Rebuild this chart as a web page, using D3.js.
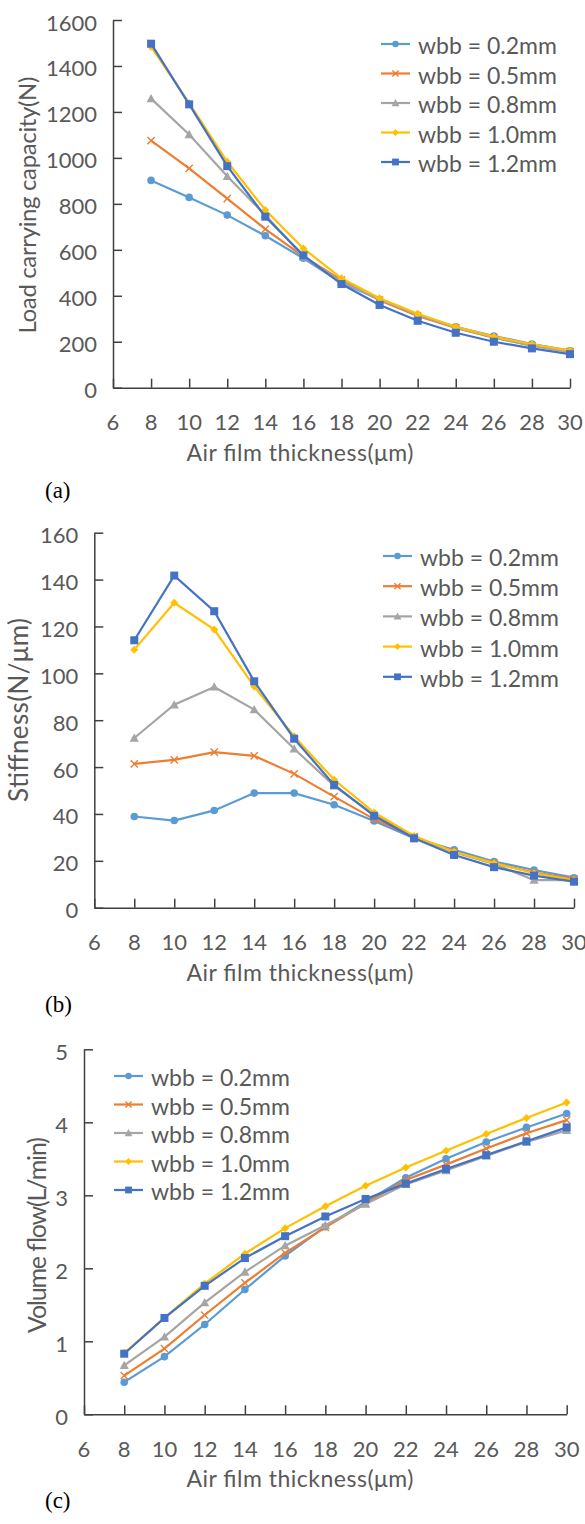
<!DOCTYPE html>
<html>
<head>
<meta charset="utf-8">
<script src="https://cdn.jsdelivr.net/npm/d3@7"></script>
<style>
  body { margin: 0; background: #fff; }
  svg text { font-family: Lato, "Open Sans", sans-serif; fill: #595959; }
  .caption { font-family: "Liberation Serif", "DejaVu Serif", serif; fill: #000; }
</style>
</head>
<body>
<svg id="chart" width="585" height="1524"></svg>
<script>
// x values shared by all three panels (air film thickness, um)
const thickness = [8, 10, 12, 14, 16, 18, 20, 22, 24, 26, 28, 30];
const seriesNames = ["wbb = 0.2mm", "wbb = 0.5mm", "wbb = 0.8mm", "wbb = 1.0mm", "wbb = 1.2mm"];
const xTicks = [6, 8, 10, 12, 14, 16, 18, 20, 22, 24, 26, 28, 30];

// (a) load carrying capacity (N)
const loadW02 = [902, 828, 751, 661, 563, 457, 384, 316, 265, 225, 190, 161];
const loadW05 = [1075, 954, 823, 690, 571, 468, 381, 312, 260, 218, 183, 157];
const loadW08 = [1258, 1102, 920, 751, 570, 461, 384, 316, 261, 219, 183, 157];
const loadW10 = [1484, 1238, 983, 773, 606, 476, 389, 322, 265, 222, 189, 161];
const loadW12 = [1497, 1233, 964, 744, 576, 451, 360, 291, 239, 200, 171, 146];
const loadTicks = [0, 200, 400, 600, 800, 1000, 1200, 1400, 1600];

// (b) stiffness (N/um)
const stiffW02 = [38.9, 37.2, 41.5, 48.9, 48.9, 43.9, 37.0, 29.6, 24.7, 19.7, 16.1, 12.8];
const stiffW05 = [61.4, 63.1, 66.4, 64.8, 57.1, 47.4, 37.8, 30.3, 23.9, 19.0, 15.0, 12.3];
const stiffW08 = [72.4, 86.6, 94.2, 84.5, 67.8, 52.0, 39.6, 29.9, 23.7, 18.7, 11.8, 11.8];
const stiffW10 = [110.1, 130.1, 118.7, 94.4, 73.1, 54.6, 40.6, 30.6, 23.9, 19.0, 14.7, 11.8];
const stiffW12 = [114.1, 141.7, 126.5, 96.6, 72.1, 52.4, 39.2, 29.6, 22.5, 17.3, 13.7, 11.1];
const stiffTicks = [0, 20, 40, 60, 80, 100, 120, 140, 160];

// (c) volume flow (L/min)
const flowW02 = [0.44, 0.79, 1.23, 1.71, 2.17, 2.57, 2.91, 3.24, 3.50, 3.73, 3.93, 4.12];
const flowW05 = [0.53, 0.90, 1.36, 1.80, 2.21, 2.56, 2.89, 3.21, 3.42, 3.64, 3.85, 4.03];
const flowW08 = [0.67, 1.06, 1.53, 1.95, 2.31, 2.59, 2.88, 3.15, 3.34, 3.54, 3.73, 3.89];
const flowW10 = [0.84, 1.32, 1.79, 2.20, 2.55, 2.85, 3.13, 3.38, 3.61, 3.84, 4.06, 4.27];
const flowW12 = [0.83, 1.32, 1.76, 2.14, 2.44, 2.71, 2.95, 3.16, 3.36, 3.55, 3.74, 3.93];
const flowTicks = [0, 1, 2, 3, 4, 5];

const colors = ["#5B9BD5", "#ED7D31", "#A5A5A5", "#FFC000", "#4472C4"];
const markers = ["circle", "cross", "triangle", "diamond", "square"];

const svg = d3.select("#chart");

// draws one excel-like marker at 0,0 inside g
function drawMarker(g, type, color, s) {
    if (type === "circle") {
        g.append("circle").attr("r", 3.8 * s).attr("fill", color);
    } else if (type === "square") {
        g.append("rect").attr("x", -4 * s).attr("y", -4 * s)
            .attr("width", 8 * s).attr("height", 8 * s).attr("fill", color);
    } else if (type === "triangle") {
        let r = 4.6 * s;
        g.append("path").attr("d", `M0,${-r}L${r},${r * 0.8}L${-r},${r * 0.8}Z`).attr("fill", color);
    } else if (type === "diamond") {
        let r = 4 * s;
        g.append("path").attr("d", `M0,${-r}L${r},0L0,${r}L${-r},0Z`).attr("fill", color);
    } else if (type === "cross") {
        let r = 3.6 * s;
        g.append("path").attr("d", `M${-r},${-r}L${r},${r}M${-r},${r}L${r},${-r}`)
            .attr("stroke", color).attr("stroke-width", 1.4);
    }
}

function drawPanel(p) {
    let x = d3.scaleLinear().domain([6, 30]).range([p.left, p.right]);
    let y = d3.scaleLinear().domain([0, p.yMax]).range([p.bottom, p.top]);
    let g = svg.append("g");

    // axes, ticks point inward like the excel original
    let xAxis = d3.axisBottom(x).tickValues(xTicks).tickSizeInner(-9).tickSizeOuter(0).tickPadding(0).tickFormat("");
    let yAxis = d3.axisLeft(y).tickValues(p.yTicks).tickSizeInner(-9).tickSizeOuter(0).tickFormat("");
    g.append("g").attr("transform", `translate(0,${p.bottom})`).call(xAxis);
    g.append("g").attr("transform", `translate(${p.left},0)`).call(yAxis);
    g.selectAll(".domain, .tick line").attr("stroke", "#404040").attr("stroke-width", 1.5);

    // tick labels
    g.selectAll(".xlab").data(xTicks).enter().append("text")
        .attr("x", d => x(d)).attr("y", p.bottom + p.xLabDy)
        .attr("text-anchor", "middle").attr("dominant-baseline", "central")
        .attr("font-size", 22).text(d => d);
    g.selectAll(".ylab").data(p.yTicks).enter().append("text")
        .attr("x", p.left - 16).attr("y", d => y(d) + 2)
        .attr("text-anchor", "end").attr("dominant-baseline", "central")
        .attr("font-size", 22).text(d => d);

    g.append("text").attr("x", 300).attr("y", p.bottom + p.xTitleDy)
        .attr("text-anchor", "middle").attr("dominant-baseline", "central")
        .attr("font-size", 23).attr("textLength", 227)
        .text("Air film thickness(\u03bcm)");
    g.append("text")
        .attr("transform", `translate(${p.yTitleX},${p.yTitleY}) rotate(-90)`)
        .attr("text-anchor", "middle").attr("dominant-baseline", "central")
        .attr("font-size", p.yTitleSize).attr("textLength", p.yTitleLen)
        .text(p.yTitle);

    // series lines + markers
    let line = d3.line().x((d, i) => x(thickness[i])).y(d => y(d));
    p.series.forEach((vals, k) => {
        g.append("path").datum(vals).attr("d", line)
            .attr("fill", "none").attr("stroke", colors[k]).attr("stroke-width", 2.2);
        vals.forEach((v, i) => {
            let m = g.append("g").attr("transform", `translate(${x(thickness[i])},${y(v)})`);
            drawMarker(m, markers[k], colors[k], 1);
        });
    });

    // legend
    let lg = g.append("g").attr("transform", `translate(${p.legX},${p.legY})`);
    seriesNames.forEach((name, k) => {
        let row = lg.append("g").attr("transform", `translate(0,${k * p.legStep})`);
        row.append("line").attr("x1", 0).attr("x2", 29).attr("stroke", colors[k]).attr("stroke-width", 2.2);
        let m = row.append("g").attr("transform", "translate(14.5,0)");
        drawMarker(m, markers[k], colors[k], 0.85);
        row.append("text").attr("x", 37).attr("y", 1).attr("dominant-baseline", "central")
            .attr("font-size", 23).text(name);
    });

    // caption
    svg.append("text").attr("class", "caption").attr("x", 45).attr("y", p.captionY)
        .attr("dominant-baseline", "central").attr("font-size", 23).text(p.caption);
}

drawPanel({
    left: 113, right: 570, top: 20, bottom: 387.7, yMax: 1600, yTicks: loadTicks,
    series: [loadW02, loadW05, loadW08, loadW10, loadW12],
    yTitle: "Load carrying capacity(N)", yTitleX: 26, yTitleY: 205, yTitleLen: 257, yTitleSize: 24,
    xLabDy: 34, xTitleDy: 64, legX: 381, legY: 44, legStep: 29.5,
    caption: "(a)", captionY: 490
});

drawPanel({
    left: 94.3, right: 574, top: 532.7, bottom: 907.7, yMax: 160, yTicks: stiffTicks,
    series: [stiffW02, stiffW05, stiffW08, stiffW10, stiffW12],
    yTitle: "Stiffness(N/\u03bcm)", yTitleX: 18, yTitleY: 710, yTitleLen: 184, yTitleSize: 26,
    xLabDy: 34, xTitleDy: 64, legX: 383, legY: 556, legStep: 30.2,
    caption: "(b)", captionY: 1004
});

drawPanel({
    left: 84, right: 566.7, top: 1049.3, bottom: 1414.3, yMax: 5, yTicks: flowTicks,
    series: [flowW02, flowW05, flowW08, flowW10, flowW12],
    yTitle: "Volume flow(L/min)", yTitleX: 36, yTitleY: 1235, yTitleLen: 196, yTitleSize: 25,
    xLabDy: 34, xTitleDy: 64, legX: 114, legY: 1076, legStep: 28.5,
    caption: "(c)", captionY: 1500
});
</script>
</body>
</html>
